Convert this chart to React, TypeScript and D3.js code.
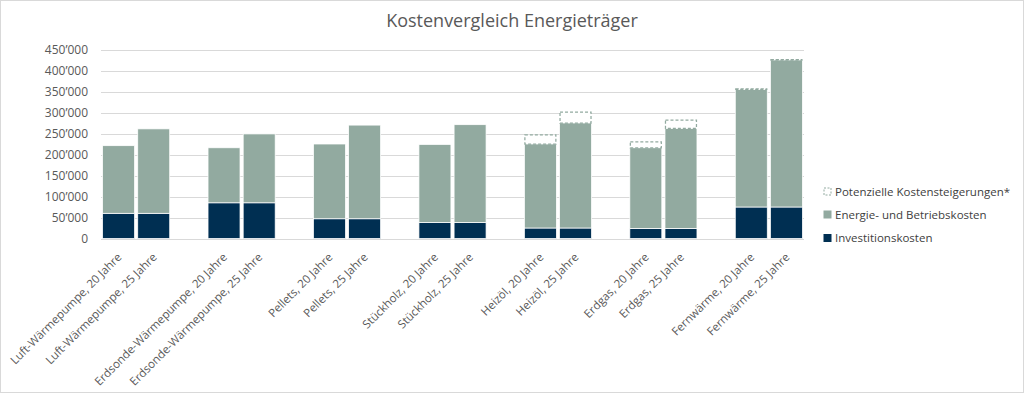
import { useEffect, useRef } from 'react';
import * as d3 from 'd3';

// labels for each bar, two per energy source
const categories = [
  'Luft-Wärmepumpe, 20 Jahre', 'Luft-Wärmepumpe, 25 Jahre',
  'Erdsonde-Wärmepumpe, 20 Jahre', 'Erdsonde-Wärmepumpe, 25 Jahre',
  'Pellets, 20 Jahre', 'Pellets, 25 Jahre',
  'Stückholz, 20 Jahre', 'Stückholz, 25 Jahre',
  'Heizöl, 20 Jahre', 'Heizöl, 25 Jahre',
  'Erdgas, 20 Jahre', 'Erdgas, 25 Jahre',
  'Fernwärme, 20 Jahre', 'Fernwärme, 25 Jahre',
];

const investition = [60000, 60000, 85000, 85000, 47000, 47000, 38000, 38000, 25000, 25000, 24000, 24000, 75000, 75000];
const energie = [161000, 201000, 131000, 164000, 178000, 223000, 186000, 233000, 200000, 250000, 192000, 238000, 280000, 350000];
const potenziell = [0, 0, 0, 0, 0, 0, 0, 0, 22000, 26000, 14000, 20000, 1000, 1000];

const yTicks = [0, 50000, 100000, 150000, 200000, 250000, 300000, 350000, 400000, 450000];

const seriesNames = ['Potenzielle Kostensteigerungen*', 'Energie- und Betriebskosten', 'Investitionskosten'];

const NAVY = '#002f52';
const SAGE = '#92aaa0';
const FONT = '"Open Sans", "Noto Sans", sans-serif';

export default function App() {
  const svgRef = useRef<SVGSVGElement>(null);

  useEffect(() => {
    if (!svgRef.current) return;
    document.body.style.margin = '0';

    const W = 1024, H = 394;
    const svg = d3.select(svgRef.current);
    svg.selectAll('*').remove();

    // chart border
    svg.append('rect')
      .attr('x', 0.5).attr('y', 0.5)
      .attr('width', W - 1).attr('height', H - 2)
      .attr('fill', '#fff')
      .attr('stroke', '#d9d9d9');

    // one empty slot between each pair of bars
    const slot = (i: number) => i + Math.floor(i / 2);
    const nSlots = slot(categories.length - 1) + 1;

    const x = d3.scaleBand<number>()
      .domain(d3.range(nSlots))
      .range([101, 804])
      .paddingInner(0.09)
      .paddingOuter(0.045);

    const y = d3.scaleLinear()
      .domain([0, 450000])
      .range([238.5, 49.5]);

    const fmt = d3.formatLocale({ decimal: '.', thousands: '’', grouping: [3], currency: ['', ''] }).format(',d');

    // gridlines
    svg.append('g')
      .selectAll('line')
      .data(yTicks)
      .join('line')
      .attr('x1', 101).attr('x2', 804)
      .attr('y1', d => Math.round(y(d)) + 0.5)
      .attr('y2', d => Math.round(y(d)) + 0.5)
      .attr('stroke', '#d9d9d9')
      .attr('stroke-width', 1);

    // y labels
    svg.append('g')
      .selectAll('text')
      .data(yTicks)
      .join('text')
      .attr('x', 88)
      .attr('y', d => y(d))
      .attr('dy', '0.35em')
      .attr('text-anchor', 'end')
      .style('font-family', FONT)
      .style('font-size', '12px')
      .attr('fill', '#595959')
      .text(d => fmt(d));

    const bars = categories.map((c, i) => ({
      name: c,
      slot: slot(i),
      inv: investition[i],
      en: energie[i],
      pot: potenziell[i],
    }));

    const g = svg.append('g');

    // Investitionskosten
    g.selectAll('.inv')
      .data(bars)
      .join('rect')
      .attr('class', 'inv')
      .attr('x', d => x(d.slot)!)
      .attr('width', x.bandwidth())
      .attr('y', d => y(d.inv))
      .attr('height', d => y(0) - y(d.inv))
      .attr('fill', NAVY)
      .attr('stroke', '#fff')
      .attr('stroke-width', 0.75);

    // Energie- und Betriebskosten
    g.selectAll('.en')
      .data(bars)
      .join('rect')
      .attr('class', 'en')
      .attr('x', d => x(d.slot)!)
      .attr('width', x.bandwidth())
      .attr('y', d => y(d.inv + d.en))
      .attr('height', d => y(d.inv) - y(d.inv + d.en))
      .attr('fill', SAGE)
      .attr('stroke', '#fff')
      .attr('stroke-width', 0.75);

    // Potenzielle Kostensteigerungen (dashed outline)
    g.selectAll('.pot')
      .data(bars.filter(d => d.pot > 0))
      .join('rect')
      .attr('class', 'pot')
      .attr('x', d => x(d.slot)! + 0.5)
      .attr('width', x.bandwidth() - 1)
      .attr('y', d => y(d.inv + d.en + d.pot))
      .attr('height', d => y(d.inv + d.en) - y(d.inv + d.en + d.pot))
      .attr('fill', '#fff')
      .attr('stroke', SAGE)
      .attr('stroke-width', 1.25)
      .attr('stroke-dasharray', '3,2');

    // x labels, rotated
    svg.append('g')
      .selectAll('text')
      .data(bars)
      .join('text')
      .attr('transform', d => `translate(${x(d.slot)! + x.bandwidth() / 2 + 1},${255}) rotate(-45)`)
      .attr('text-anchor', 'end')
      .attr('dy', '0.35em')
      .style('font-family', FONT)
      .style('font-size', '11.5px')
      .attr('fill', '#595959')
      .text(d => d.name);

    // title
    svg.append('text')
      .attr('x', 512)
      .attr('y', 27)
      .attr('text-anchor', 'middle')
      .style('font-family', FONT)
      .style('font-size', '18px')
      .attr('fill', '#595959')
      .text('Kostenvergleich Energieträger');

    // legend
    const legend = svg.append('g').attr('transform', 'translate(823,0)');
    const rowsY = [191.5, 214.5, 238];
    seriesNames.forEach((name, i) => {
      const row = legend.append('g').attr('transform', `translate(0,${rowsY[i]})`);
      if (i === 0) {
        row.append('rect')
          .attr('x', 1).attr('y', -3.5)
          .attr('width', 7).attr('height', 7)
          .attr('fill', '#fff')
          .attr('stroke', SAGE)
          .attr('stroke-width', 1)
          .attr('stroke-dasharray', '2,1.5');
      } else {
        row.append('rect')
          .attr('x', 0.5).attr('y', -4)
          .attr('width', 8).attr('height', 8)
          .attr('fill', i === 1 ? SAGE : NAVY);
      }
      row.append('text')
        .attr('x', 12)
        .attr('dy', '0.35em')
        .style('font-family', FONT)
        .style('font-size', '11.5px')
        .attr('fill', '#404040')
        .text(name);
    });
  }, []);

  return (
    <svg
      ref={svgRef}
      width={1024}
      height={394}
      style={{ display: 'block' }}
    />
  );
}
